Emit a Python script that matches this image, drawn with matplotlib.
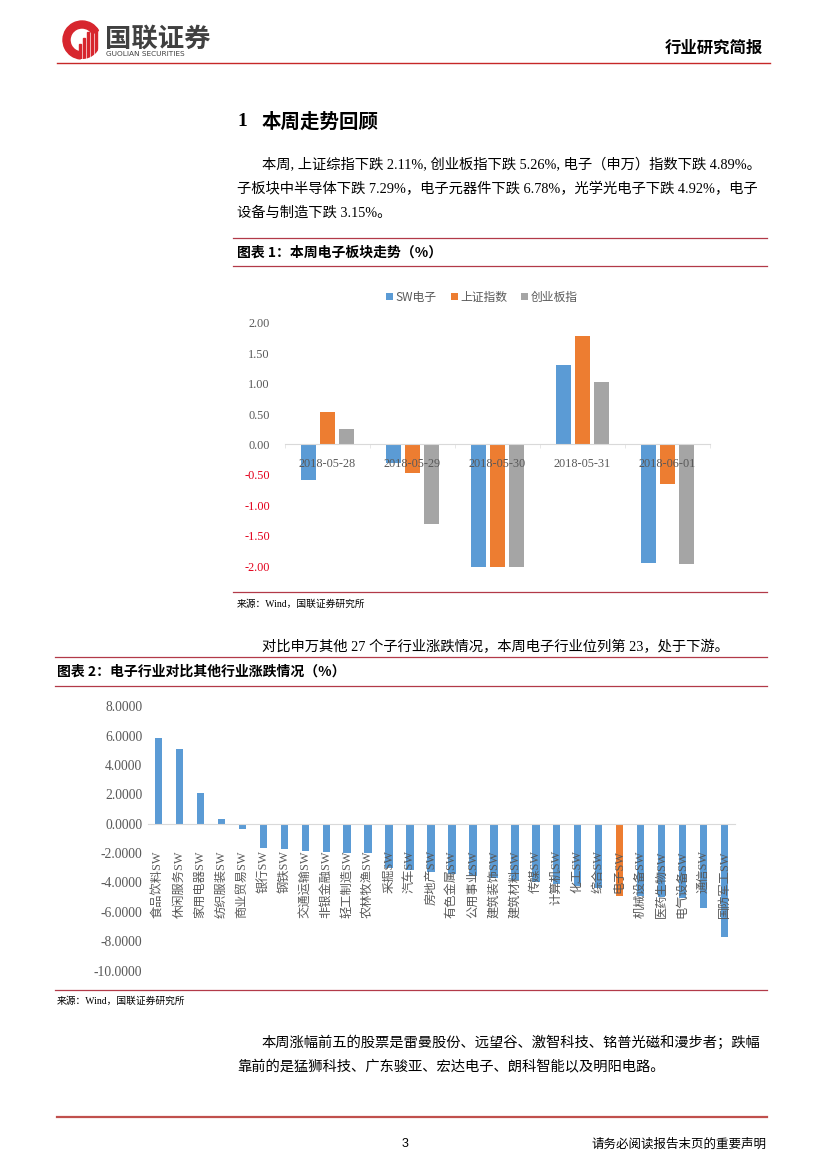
import matplotlib.pyplot as plt
from matplotlib.patches import Circle, Rectangle, Wedge

# chart 1: weekly trend of the electronics sector (%)
dates = ['2018-05-28', '2018-05-29', '2018-05-30', '2018-05-31', '2018-06-01']
sw_elec = [-0.58, -0.31, -2.01, 1.31, -1.95]
sh_index = [0.53, -0.47, -2.01, 1.78, -0.65]
gem_index = [0.26, -1.30, -2.01, 1.02, -1.96]
series_names = ['SW电子', '上证指数', '创业板指']

# chart 2: Shenwan industries this week (%)
industries = ['食品饮料', '休闲服务', '家用电器', '纺织服装', '商业贸易', '银行', '钢铁',
              '交通运输', '非银金融', '轻工制造', '农林牧渔', '采掘', '汽车', '房地产',
              '有色金属', '公用事业', '建筑装饰', '建筑材料', '传媒', '计算机', '化工',
              '综合', '电子', '机械设备', '医药生物', '电气设备', '通信', '国防军工']
ind_change = [5.81, 5.06, 2.07, 0.32, -0.38, -1.68, -1.74, -1.84, -1.93, -1.97, -2.02,
              -3.04, -3.15, -3.27, -3.40, -3.55, -3.68, -3.80, -3.95, -4.10, -4.25,
              -4.40, -4.89, -4.93, -4.98, -5.03, -5.76, -7.69]
highlight = '电子'
ticks2 = [8, 6, 4, 2, 0, -2, -4, -6, -8, -10]
ticks1 = [2.0, 1.5, 1.0, 0.5, 0.0, -0.5, -1.0, -1.5, -2.0]

W, H = 827, 1169
CJK = ['Noto Sans CJK SC', 'DejaVu Sans']
MIX = ['Liberation Serif', 'Noto Sans CJK SC', 'DejaVu Sans']
BLUE, ORANGE, GREY = '#5B9BD5', '#ED7D31', '#A5A5A5'
LINE_RED = '#B23A48'
TXT = '#595959'

plt.rcParams['font.family'] = CJK


def ax_rect(x0, y0, x1, y1):
    # pixel box (top-left origin) -> figure fraction
    return [x0 / W, 1 - y1 / H, (x1 - x0) / W, (y1 - y0) / H]


fig = plt.figure(figsize=(W / 100, H / 100), dpi=100)

# page layer in pixel coordinates
page = fig.add_axes([0, 0, 1, 1])
page.set_xlim(0, W)
page.set_ylim(H, 0)
page.axis('off')

# logo
ring = Wedge((82, 40), 19, 95, 330, width=7, color='#D7262E')
page.add_patch(ring)
disc = Circle((82, 40), 19, transform=page.transData)
for i, top in enumerate([44, 38, 32, 27, 21]):
    r = Rectangle((79 + i * 4, top), 2.4, 40, color='#D7262E')
    page.add_patch(r)
    r.set_clip_path(disc)
page.text(105, 39, '国联证券', fontsize=19, fontweight='bold', color='#404040',
          va='center', ha='left')
page.text(106, 54, 'GUOLIAN SECURITIES', fontsize=5.3, color='#404040',
          va='center', ha='left', family='DejaVu Sans')
page.text(763, 48, '行业研究简报', fontsize=11.8, fontweight='bold', ha='right', va='center')
page.plot([57, 770], [63, 63], color='#C62828', lw=1.0)

# section 1 text
page.text(237, 122, '1', fontsize=14, fontweight='bold', family=MIX, va='center')
page.text(262, 122, '本周走势回顾', fontsize=14, fontweight='bold', va='center')
body = [(262, 165, '本周, 上证综指下跌 2.11%, 创业板指下跌 5.26%, 电子（申万）指数下跌 4.89%。'),
        (237, 189, '子板块中半导体下跌 7.29%，电子元器件下跌 6.78%，光学光电子下跌 4.92%，电子'),
        (237, 213, '设备与制造下跌 3.15%。'),
        (262, 647, '对比申万其他 27 个子行业涨跌情况，本周电子行业位列第 23，处于下游。'),
        (262, 1043, '本周涨幅前五的股票是雷曼股份、远望谷、激智科技、铭普光磁和漫步者；跌幅'),
        (237, 1067, '靠前的是猛狮科技、广东骏亚、宏达电子、朗科智能以及明阳电路。')]
for x, y, s in body:
    page.text(x, y, s, fontsize=10.3, family=MIX, va='center', ha='left')

# chart frames
page.plot([233, 767], [238, 238], color=LINE_RED, lw=0.9)
page.plot([233, 767], [266, 266], color=LINE_RED, lw=0.9)
page.text(237, 253, '图表 1：本周电子板块走势（%）', fontsize=10, fontweight='bold', va='center')
page.plot([233, 767], [592, 592], color=LINE_RED, lw=0.9)
page.text(237, 604, '来源：Wind，国联证券研究所', fontsize=7, family=MIX, va='center')

page.plot([55, 767], [657, 657], color=LINE_RED, lw=0.9)
page.plot([55, 767], [686, 686], color=LINE_RED, lw=0.9)
page.text(57, 672, '图表 2：电子行业对比其他行业涨跌情况（%）', fontsize=10, fontweight='bold', va='center')
page.plot([55, 767], [990, 990], color=LINE_RED, lw=0.9)
page.text(57, 1001, '来源：Wind，国联证券研究所', fontsize=7, family=MIX, va='center')

# footer
page.plot([57, 767], [1117, 1117], color='#C0504D', lw=1.6)
page.text(405, 1144, '3', fontsize=9, family='Liberation Sans', ha='center', va='center')
page.text(767, 1144, '请务必阅读报告末页的重要声明', fontsize=9, ha='right', va='center')

# ---- chart 1 ----
ax1 = fig.add_axes(ax_rect(285, 316.7, 710, 572.3))
x = list(range(len(dates)))
w = 0.176
off = 0.223
ax1.bar([i - off for i in x], sw_elec, w, color=BLUE, label=series_names[0])
ax1.bar(x, sh_index, w, color=ORANGE, label=series_names[1])
ax1.bar([i + off for i in x], gem_index, w, color=GREY, label=series_names[2])
ax1.set_xlim(-0.5, len(dates) - 0.5)
ax1.set_ylim(-2.1, 2.1)
for s in ['top', 'right', 'left']:
    ax1.spines[s].set_visible(False)
ax1.spines['bottom'].set_position(('data', 0))
ax1.spines['bottom'].set_color('#D9D9D9')
ax1.set_xticks(x)
ax1.set_xticklabels(dates, family='Liberation Serif', fontsize=8.8, color=TXT)
ax1.set_xticks([i - 0.5 for i in range(len(dates) + 1)], minor=True)
ax1.tick_params(axis='x', which='major', length=0, pad=10)
ax1.tick_params(axis='x', which='minor', length=3, color='#E3E3E3')
ax1.set_yticks(ticks1)
ax1.set_yticklabels([f'{t:.2f}' for t in ticks1], family='Liberation Serif', fontsize=8.8)
for lab, t in zip(ax1.get_yticklabels(), ticks1):
    lab.set_color('#E3001B' if t < 0 else TXT)
ax1.tick_params(axis='y', length=0, pad=11)
ax1.patch.set_alpha(0)
leg = ax1.legend(loc='center', bbox_to_anchor=(482 / W, 1 - 297 / H),
                 bbox_transform=fig.transFigure, ncol=3, frameon=False,
                 handlelength=0.6, handleheight=0.6, handletextpad=0.2,
                 columnspacing=1.2, prop={'family': CJK, 'size': 8.5})
for t in leg.get_texts():
    t.set_color(TXT)

# ---- chart 2 ----
ax2 = fig.add_axes(ax_rect(148, 703.2, 735, 973.6))
xi = list(range(len(industries)))
colors = [ORANGE if n == highlight else BLUE for n in industries]
ax2.bar(xi, ind_change, 0.35, color=colors)
ax2.set_xlim(-0.5, len(industries) - 0.5)
ax2.set_ylim(-10.2, 8.2)
for s in ['top', 'right', 'left']:
    ax2.spines[s].set_visible(False)
ax2.spines['bottom'].set_position(('data', 0))
ax2.spines['bottom'].set_color('#D9D9D9')
ax2.set_xticks(xi)
ax2.set_xticklabels([n + 'SW' for n in industries], rotation=90, family=MIX,
                    fontsize=8.8, color=TXT)
ax2.tick_params(axis='x', length=0, pad=19)
ax2.set_yticks(ticks2)
ax2.set_yticklabels([f'{t:.4f}' for t in ticks2], family='Liberation Serif',
                    fontsize=9.8, color=TXT)
ax2.tick_params(axis='y', length=0, pad=4)
ax2.patch.set_alpha(0)

fig.savefig('out.png', dpi=100)
